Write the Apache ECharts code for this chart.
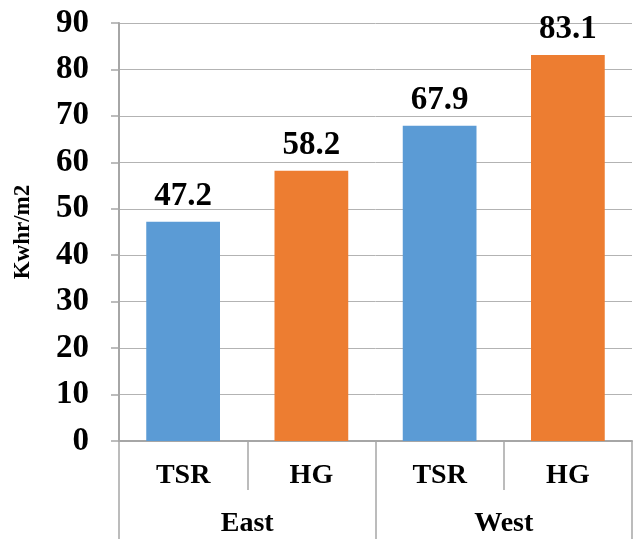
<!DOCTYPE html>
<html><head><meta charset="utf-8">
<script src="https://cdn.jsdelivr.net/npm/echarts@6/dist/echarts.min.js"></script>
<style>html,body{margin:0;padding:0;background:#fff}#c{width:633px;height:539px}</style>
</head><body><div id="c"></div>
<script>
const categories = ['TSR', 'HG', 'TSR', 'HG'];
const groups = ['East', 'West'];
const values = [47.2, 58.2, 67.9, 83.1];
const barColors = ['#5B9BD5', '#ED7D31', '#5B9BD5', '#ED7D31'];
const yTicks = { min: 0, max: 90, interval: 10 };
const yTitle = 'Kwhr/m2';

const FONT = '"Liberation Serif", "Times New Roman", serif';
const AX = '#a6a6a6';
const chart = echarts.init(document.getElementById('c'), null, { renderer: 'canvas' });
chart.setOption({
  animation: false,
  grid: { left: 119, right: 1, top: 23, bottom: 98 },
  xAxis: [
    {
      type: 'category', data: categories, position: 'bottom',
      axisLine: { lineStyle: { color: AX, width: 2 } },
      axisTick: { show: true, interval: 0, length: 49, lineStyle: { color: AX, width: 1.5 } },
      axisLabel: { interval: 0, margin: 21, color: '#000', fontFamily: FONT, fontWeight: 'bold', fontSize: 28 }
    },
    {
      type: 'category', data: groups, position: 'bottom',
      axisLine: { show: false },
      axisTick: { show: true, interval: 0, length: 98, lineStyle: { color: AX, width: 1.5 } },
      axisLabel: { interval: 0, margin: 69, color: '#000', fontFamily: FONT, fontWeight: 'bold', fontSize: 28 }
    }
  ],
  yAxis: {
    type: 'value', min: yTicks.min, max: yTicks.max, interval: yTicks.interval,
    name: yTitle, nameLocation: 'middle', nameGap: 84, nameRotate: 90,
    nameTextStyle: { color: '#000', fontFamily: FONT, fontWeight: 'bold', fontSize: 23 },
    axisLine: { show: true, lineStyle: { color: AX, width: 2 } },
    axisTick: { show: true, length: 8, lineStyle: { color: AX, width: 1.5 } },
    axisLabel: { margin: 30, color: '#000', fontFamily: FONT, fontWeight: 'bold', fontSize: 33 },
    splitLine: { show: true, lineStyle: { color: '#b3b3b3', width: 1 } }
  },
  series: [{
    type: 'bar', xAxisIndex: 0,
    data: values.map((v, i) => ({ value: v, itemStyle: { color: barColors[i] } })),
    barWidth: '57.5%',
    label: {
      show: true, position: 'top', distance: 9, color: '#000',
      fontFamily: FONT, fontWeight: 'bold', fontSize: 33,
      formatter: p => p.value.toFixed(1)
    }
  }]
});
</script></body></html>
